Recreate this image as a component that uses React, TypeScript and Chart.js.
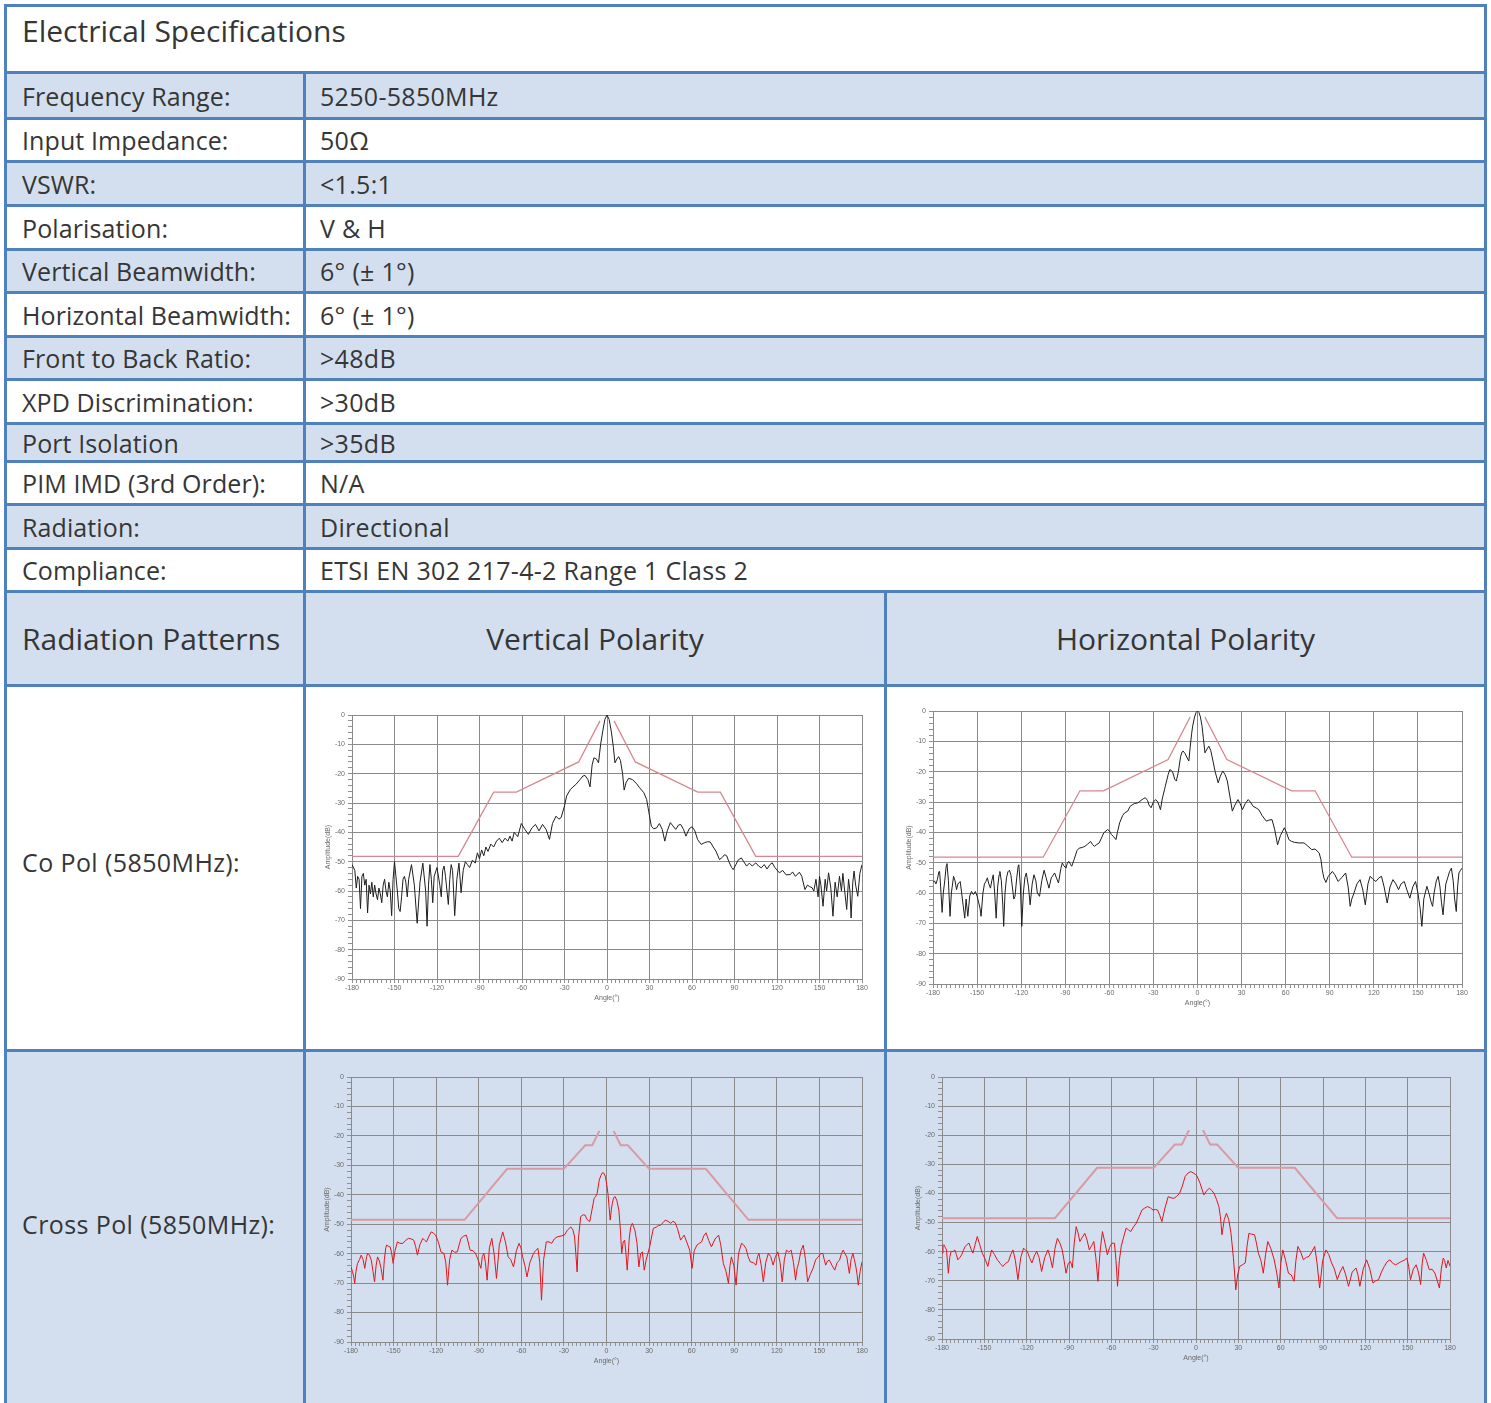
import React, { useEffect, useRef } from 'react';
import { Chart, registerables } from 'chart.js';

Chart.register(...registerables);

type Pt = [number, number | null];

// ---------- table text ----------
const titleText = 'Electrical Specifications';
const specLabels = [
  'Frequency Range:', 'Input Impedance:', 'VSWR:', 'Polarisation:', 'Vertical Beamwidth:',
  'Horizontal Beamwidth:', 'Front to Back Ratio:', 'XPD Discrimination:', 'Port Isolation',
  'PIM IMD (3rd Order):', 'Radiation:', 'Compliance:',
];
const specValues = [
  '5250-5850MHz', '50Ω', '<1.5:1', 'V & H', '6° (± 1°)', '6° (± 1°)', '>48dB', '>30dB', '>35dB',
  'N/A', 'Directional', 'ETSI EN 302 217-4-2 Range 1 Class 2',
];
const patternHeaders = ['Radiation Patterns', 'Vertical Polarity', 'Horizontal Polarity'];
const patternRows = ['Co Pol (5850MHz):', 'Cross Pol (5850MHz):'];

// ---------- axis definitions ----------
const angleMin = -180;
const angleMax = 180;
const angleStep = 3;
const angleLabelEvery = 30;
const levelMin = -90;
const levelMax = 0;
const levelStep = 2;
const levelLabelEvery = 10;
const angleTitle = 'Angle(°)';
const levelTitle = 'Amplitude(dB)';

// ---------- masks (angle °, level dB) ----------
const coPolMask: Pt[] = [
  [-180, -48.2], [-105, -48.2], [-80, -26.3], [-64, -26.3], [-20, -16], [-5, -2], [0, null],
  [5, -2], [20, -16], [64, -26.3], [80, -26.3], [105, -48.2], [180, -48.2],
];
const crossPolMask: Pt[] = [
  [-180, -48.5], [-100, -48.5], [-70, -31.2], [-30, -31.2], [-15, -23.2], [-10, -23.2], [-5, -18.3], [0, null],
  [5, -18.3], [10, -23.2], [15, -23.2], [30, -31.2], [70, -31.2], [100, -48.5], [180, -48.5],
];

// ---------- measured patterns (angle °, level dB) ----------
const coPolVertical: Pt[] = [
  [-180, -51], [-178, -53], [-177, -59], [-176, -55], [-175, -56], [-174, -66], [-173, -55], [-172, -54],
  [-171, -58], [-170, -56], [-169, -67.5], [-168, -58], [-167, -61], [-166, -57], [-165, -62], [-164, -58],
  [-163, -61], [-162, -63], [-161, -59], [-160, -61], [-159, -64], [-158, -58], [-157, -56], [-156, -60],
  [-155, -62], [-154, -57], [-153, -60], [-152, -68.4], [-151, -56], [-150, -50], [-149, -55], [-148, -60],
  [-147, -66], [-146, -67], [-145, -62], [-144, -56], [-143, -55], [-142, -57], [-141, -62], [-140, -56],
  [-138, -51], [-136, -58], [-134, -71], [-132, -57], [-130, -50.5], [-128, -60], [-127, -72], [-126, -58],
  [-125, -51], [-124, -56], [-123, -64], [-122, -55], [-120, -52], [-118, -58], [-117, -62], [-116, -53],
  [-115, -51.5], [-114, -55], [-112, -64.6], [-111, -56], [-110, -51], [-109, -53], [-107.5, -68.4], [-106, -56],
  [-104.5, -50.5], [-103, -60.6], [-101.5, -53], [-100, -50], [-98.5, -51], [-97, -52], [-95, -49.5], [-93, -50.5],
  [-91.5, -47], [-90, -49], [-88.5, -46], [-87, -48], [-85.5, -45], [-84, -46.5], [-82, -44], [-80, -45],
  [-78, -43], [-76, -42], [-74, -43.5], [-72, -42], [-70, -43], [-68.5, -41.3], [-67, -43], [-65.5, -40],
  [-63, -41.5], [-60.5, -37], [-58, -39], [-55.5, -40.7], [-53, -38.5], [-50.5, -37.3], [-48, -39.5], [-45.5, -37.3],
  [-43, -39], [-40.6, -42.4], [-38.5, -37], [-36, -34.5], [-34, -35.5], [-32.4, -35], [-30, -31], [-28.5, -27.6],
  [-26, -25.5], [-24, -24.5], [-22, -23.7], [-19, -22], [-17, -20.8], [-15.5, -20.6], [-13.5, -22], [-12, -24.5],
  [-10.5, -17], [-9.2, -14.6], [-7.5, -15], [-6, -16.3], [-4.5, -10], [-3, -5.5], [-1.5, -1.5], [0, 0],
  [1.5, -1.5], [3, -5.5], [4.5, -11], [5.6, -16.3], [7, -15], [8.2, -14.2], [9.5, -15.5], [11, -20],
  [12.1, -25.6], [13.5, -23], [15.2, -21.6], [18, -22], [21, -23.5], [23, -24.8], [26, -26.5], [28, -28.8],
  [29.5, -33], [31.3, -37.9], [33, -38.8], [35, -38.5], [37, -37], [39, -39], [40.8, -43], [42.5, -39.5],
  [44.7, -36.7], [46.5, -37.8], [48.5, -39], [50.5, -37.5], [52, -37.3], [54, -39], [55.7, -41.3], [58, -38.8],
  [60.1, -38.1], [62, -39.5], [64, -42.5], [66.5, -44.1], [69, -43.5], [71, -43.2], [72.9, -43.3], [75, -45],
  [77, -46.5], [79.4, -49.3], [81.5, -48.5], [83, -47.6], [84.5, -48], [86, -50], [88, -52], [89.1, -52.7],
  [91, -51], [92.5, -49.5], [94.8, -48.7], [96.5, -50], [98.6, -51.5], [100.5, -50.5], [102.5, -51.5], [105, -50.4],
  [107, -51.5], [108.9, -52.1], [111, -51], [113, -52.5], [115, -51], [116.6, -50.4], [118.5, -52], [121.7, -53.8],
  [124, -53], [126.5, -54.5], [129.4, -54.4], [131, -53.5], [133, -55], [135.8, -53.6], [137.5, -55], [139.7, -59.5],
  [141.5, -58], [143, -58.5], [144.8, -58.9], [146, -60], [147.5, -56], [149, -62], [150, -55], [151, -58],
  [152.5, -65.2], [154, -56], [155, -60], [156.4, -53.8], [158, -59], [159.5, -68.6], [161, -57], [162.5, -62],
  [164.1, -55], [165.5, -60], [166.5, -54], [168, -61], [169.2, -66.3], [170.5, -56], [171.5, -60], [172.3, -69.2],
  [173.5, -57], [174.4, -53.2], [175.5, -58], [177, -61.8], [178.5, -54], [180, -51],
];

const coPolHorizontal: Pt[] = [
  [-180, -56.5], [-179, -56], [-178, -57], [-177, -55.5], [-176, -53], [-175.5, -52.9], [-174.8, -58], [-173.8, -66.4],
  [-173, -60], [-172, -56], [-171, -51], [-170.5, -50.3], [-169.5, -56], [-168.4, -67.7], [-167.5, -60], [-166, -54.5],
  [-165, -56], [-164, -58.9], [-163, -57], [-161.5, -56.2], [-160.5, -60], [-159.5, -64], [-158.4, -68.3], [-157.5, -62],
  [-156.3, -67.7], [-155, -61], [-153.8, -59.5], [-152.5, -60.5], [-151.2, -59.5], [-150, -61], [-149, -63], [-148, -65],
  [-147.3, -67.7], [-146, -60], [-145, -57], [-144, -56.2], [-143, -55], [-142, -57], [-140.9, -58.4], [-140, -56],
  [-139, -54], [-138, -60], [-137, -68.3], [-136, -58], [-135, -54], [-134.5, -52.9], [-133.5, -56], [-132.5, -64],
  [-131.9, -71], [-131, -60], [-130, -55], [-129, -53], [-128, -52.5], [-127, -54], [-126, -58], [-125, -62],
  [-124.2, -61.1], [-123, -55], [-122, -51], [-121.6, -50.7], [-120.5, -58], [-119.6, -71], [-118.5, -60], [-117.5, -55],
  [-116.5, -53.4], [-115, -58], [-113.9, -63.9], [-112.5, -57], [-111.3, -54], [-110, -56], [-109, -60], [-107.5, -61.1],
  [-106, -56], [-104.4, -52.5], [-103, -55], [-101.1, -58.4], [-99.5, -55], [-97.2, -53.4], [-96, -55], [-94.6, -56.7],
  [-93, -52], [-92, -50.1], [-91, -51], [-89.5, -51.8], [-88.5, -50], [-87.4, -49.6], [-86.5, -50.5], [-85.6, -51.2],
  [-84, -49], [-82, -46], [-80.5, -45.2], [-78.5, -45], [-76.6, -44.6], [-75, -44], [-72.8, -43], [-71.5, -44],
  [-70.2, -44.6], [-68.5, -44], [-66.9, -43.5], [-65, -41.5], [-63.8, -40.2], [-61.2, -39.1], [-60, -39.5], [-58.6, -40.7],
  [-57, -41.5], [-55.5, -42.4], [-54.5, -40], [-53, -36.9], [-51, -34.5], [-49.6, -33.6], [-47.5, -33], [-45.8, -31.4],
  [-43, -30.5], [-40.6, -30.3], [-38.5, -29.5], [-36.5, -28.8], [-35.5, -28.6], [-34, -29.5], [-33, -31], [-31.6, -31.9],
  [-30, -30], [-28.5, -29.2], [-27, -30], [-25.2, -32.5], [-24, -29], [-22.5, -26], [-21.9, -24.8], [-20, -21],
  [-18.8, -19.3], [-17, -20], [-15.5, -22.5], [-14.4, -23.1], [-13, -20], [-11.5, -15], [-10.5, -13.5], [-9.8, -13.2],
  [-8.5, -14], [-7, -15.5], [-5.9, -16.5], [-5, -12], [-4, -7.5], [-3.3, -5], [-2, -2], [-1, -0.5],
  [0, 0], [1, -0.5], [2, -2], [3.1, -5], [4, -9], [5.1, -13.8], [6.5, -12.5], [7.7, -11.6],
  [9, -13], [10.8, -17.1], [12, -20], [14.1, -23.7], [15.5, -21.5], [17.2, -19.8], [18.8, -21], [20.3, -23.1],
  [22, -28], [23.7, -33], [25.5, -31], [27.5, -29.2], [29, -30.5], [30.6, -32.5], [32.5, -30.5], [34.5, -29.2],
  [36, -30], [37.8, -31.4], [40, -32], [41.7, -32.5], [44, -34.5], [46.8, -36.3], [48.5, -36], [50.7, -35.8],
  [52.5, -39], [54.5, -44.1], [56.5, -41], [59.1, -38.5], [60.5, -40], [62.2, -42.4], [64, -43], [66.1, -43.3],
  [69, -43.5], [72.5, -43.5], [75, -44.5], [77.7, -45.7], [80, -45.5], [82.8, -46.8], [84, -49], [84.9, -52.3],
  [86, -55], [87.4, -56.5], [89, -54.5], [91.8, -52.9], [93.5, -54], [95.7, -56.2], [98, -55], [100.8, -53.4],
  [102.5, -58], [103.9, -64.4], [105, -62], [106.5, -60], [108.5, -57], [110.6, -55.6], [112.5, -59], [114.2, -63.9],
  [116, -57], [117.5, -54.5], [119.5, -55.5], [121.4, -56.2], [123.5, -55], [125.2, -54.5], [127, -58], [129.1, -63.3],
  [131, -58], [133, -55.6], [135, -57], [136.8, -58.9], [138.5, -57], [140.7, -56.2], [142.5, -59], [144.5, -61.7],
  [146.5, -58], [148.4, -56.2], [150, -60], [151.5, -65], [152.7, -71], [154, -62], [156.1, -57.8], [157.5, -60],
  [159, -63], [160, -64.4], [161, -60], [162.5, -56], [163.8, -54.5], [165, -58], [166, -63], [167.1, -67.2],
  [168, -62], [169, -57], [170.2, -55.1], [171.5, -53], [172.8, -51.8], [174, -56], [175, -62], [176.1, -66.1],
  [177, -58], [177.9, -53.4], [179, -52.5], [180, -51.8],
];

const crossPolVertical: Pt[] = [
  [-180, -64.5], [-179, -66], [-178, -68], [-177.4, -70.1], [-176.5, -66], [-175.4, -63.3], [-174, -62], [-172.8, -60.5],
  [-171.5, -62], [-170.3, -65], [-169, -61], [-168.2, -59.9], [-167, -60.5], [-165.7, -62.2], [-164.5, -66], [-163.4, -69.6],
  [-162.3, -64], [-161.3, -61.1], [-160, -62.5], [-158.8, -65], [-157.5, -69], [-156.5, -62], [-155.5, -58], [-154.9, -57.1],
  [-153.5, -57.5], [-152.4, -57.7], [-151.3, -60], [-150.3, -63.3], [-149, -59], [-147.3, -56], [-145.5, -56.5], [-143.4, -56.5],
  [-141.5, -55.5], [-139.6, -54.8], [-137.5, -55], [-135.8, -55.4], [-134.5, -57.5], [-133.2, -60.5], [-131.5, -57], [-129.4, -54.8],
  [-128, -55.5], [-126.8, -56], [-125, -54], [-123.5, -52.6], [-122, -53], [-120.4, -53.7], [-118.5, -56], [-116.6, -59.4],
  [-114.6, -59.9], [-113.2, -63], [-112, -70.7], [-110.5, -62], [-108.9, -58.8], [-107, -59.5], [-105.1, -59.4], [-103.8, -57],
  [-102.5, -54.8], [-100.5, -54], [-98.7, -53.7], [-97.5, -56], [-96.1, -58.8], [-94, -59], [-92.3, -59.9], [-90.5, -62],
  [-88.5, -65], [-87.5, -61], [-86.4, -59.9], [-85.3, -63], [-84.1, -69], [-82.5, -58], [-80.8, -54.8], [-79.2, -60],
  [-77.5, -68.4], [-75.5, -57], [-73.1, -52.6], [-71.2, -56], [-69.3, -61.1], [-67.5, -62], [-65.5, -64.5], [-63.5, -59],
  [-61.6, -56.5], [-60.3, -58], [-59.1, -61.1], [-57.5, -64], [-56, -67.9], [-54, -63], [-51.4, -59.9], [-50, -59],
  [-48.3, -58.2], [-47, -63], [-45.8, -75.8], [-44.3, -62], [-42.4, -56], [-40.5, -56], [-38.6, -56.5], [-36.8, -55],
  [-34.8, -54.3], [-32, -54], [-29.7, -53.7], [-27.5, -52], [-25.1, -50.9], [-23.6, -52], [-22.5, -54.3], [-21.6, -60],
  [-20.7, -66.2], [-19.8, -55], [-18.2, -47.4], [-16.5, -46.8], [-15.1, -46.9], [-13.5, -48.5], [-11.8, -49.1], [-10.2, -45],
  [-8.7, -41.2], [-7.5, -40.5], [-6.6, -39.5], [-5.1, -35], [-4, -33.5], [-2.8, -32.5], [-1.8, -32.7], [-0.8, -33.8],
  [0, -36], [1, -39.5], [1.8, -44], [2.6, -48.6], [3.4, -45], [4.1, -42.9], [5, -41], [6.1, -40.6],
  [7.3, -42], [8.7, -45.2], [9.8, -52], [10.7, -59.9], [11.8, -56], [12.8, -55.4], [13.7, -60], [14.6, -65.6],
  [16, -55], [17, -51], [18.2, -49.7], [20, -52], [21.5, -56.5], [22.8, -64.5], [24, -60], [25.3, -59.4],
  [26.6, -65.6], [28, -62], [30.4, -57.7], [31.5, -55], [33, -51.4], [35, -51], [36.5, -50.5], [38.1, -50.3],
  [39.8, -49.5], [41.4, -48.6], [43.3, -49], [45.3, -49.7], [46.8, -49], [48.3, -49.4], [50, -51.5], [52.2, -55.4],
  [53.5, -54.5], [54.7, -53.7], [56.5, -56], [58.6, -58.8], [60.3, -65], [61.8, -59], [63.7, -57.1], [65.3, -56.5],
  [67, -56], [68.5, -54], [70.1, -52.9], [72, -55.5], [73.9, -57.7], [76.5, -55], [79, -53.7], [80.5, -57],
  [82.3, -63.3], [84.2, -66], [85.9, -70.1], [87, -64], [88, -61.1], [89.7, -64], [91.3, -70.7], [93, -60],
  [95.1, -56.5], [96.6, -57], [98.2, -58.2], [99.8, -61], [101.3, -62.8], [103.3, -63], [105.3, -63.9], [106.4, -61],
  [107.4, -59.9], [109, -64], [110.5, -69.6], [112.2, -63], [114, -59.9], [115.7, -61], [117.4, -63.9], [119, -61],
  [120.7, -59.4], [122.3, -63], [123.8, -69.6], [125.3, -62], [126.8, -58.8], [128.5, -59.5], [130.1, -58.8], [131.7, -63],
  [133.2, -69], [134.3, -65], [135.3, -63.3], [137, -59], [138.6, -57.1], [140.2, -62], [141.7, -69.6], [143.6, -67],
  [145.5, -65], [147.4, -62], [149.3, -61.1], [150.8, -60], [152.4, -59.9], [153.4, -62], [154.4, -63.9], [155.7, -62.5],
  [157, -62.2], [158.9, -64], [160.8, -65.6], [162.5, -63], [164.2, -62.2], [165.5, -60], [166.7, -58.8], [168, -60],
  [169.3, -61.1], [170.2, -64], [171.1, -66.7], [172.3, -62], [173.6, -59.9], [174.6, -62], [175.7, -64.5], [176.5, -67],
  [177.4, -70.7], [178.7, -66], [180, -62.8],
];

const crossPolHorizontal: Pt[] = [
  [-180, -60.5], [-179.3, -58], [-178.7, -57.6], [-177.7, -58.5], [-176.8, -59.4], [-176.2, -63], [-175.5, -67.4], [-174.5, -62],
  [-173.6, -59.9], [-172.2, -60], [-170.9, -59.4], [-169.8, -61], [-168.8, -62.8], [-167.4, -62], [-166.1, -61.1], [-164.8, -59.5],
  [-163.5, -58.2], [-162.2, -57.5], [-160.8, -57.1], [-159.5, -59], [-158.1, -60.5], [-156.5, -57.5], [-155, -54.8], [-153.3, -57.5],
  [-151.5, -60.5], [-149.5, -62.5], [-147.5, -65.1], [-146.2, -62], [-144.8, -59.4], [-142.8, -61], [-140.8, -62.8], [-138.8, -64],
  [-136.9, -65.1], [-134.9, -64], [-132.9, -63.4], [-131.3, -61], [-129.7, -59.4], [-128, -63], [-126.2, -69.6], [-124.2, -62],
  [-122.2, -58.8], [-120.8, -59.5], [-119.5, -59.9], [-118, -62], [-116.3, -63.9], [-114.6, -61.5], [-112.9, -59.9], [-111.2, -62],
  [-109.4, -66.8], [-107.2, -62], [-104.9, -59.4], [-103.3, -62], [-101.7, -65.6], [-100, -59], [-98.2, -55.4], [-96.5, -57],
  [-94.8, -59.4], [-93.5, -63], [-92.1, -67.4], [-90.5, -64], [-88.9, -63.4], [-88.2, -64.5], [-87.6, -65.6], [-86.3, -57],
  [-84.9, -51.4], [-83.6, -53.5], [-82.3, -56.5], [-80.5, -55], [-78.8, -53.7], [-77.2, -56], [-75.6, -59.4], [-74, -58],
  [-72.4, -56.5], [-71, -62], [-69.5, -70.2], [-68, -60], [-66.3, -53.1], [-64.5, -57], [-62.8, -61.1], [-61.2, -58.5],
  [-59.6, -57.1], [-57.8, -57.1], [-56.7, -63], [-55.6, -71.9], [-54.3, -63], [-53, -58.2], [-51.3, -55], [-49.5, -51.9],
  [-47.9, -52.5], [-46.3, -53.1], [-44.3, -51.5], [-42.3, -50.2], [-40.3, -48], [-38.3, -45.7], [-36.3, -45], [-34.3, -44.5],
  [-32.3, -45], [-30.4, -45.7], [-28.8, -45.5], [-27.2, -45.7], [-25.7, -47.5], [-24.2, -49.7], [-22, -45], [-19.7, -41.1],
  [-17.7, -41.5], [-15.7, -41.7], [-13.7, -41], [-11.7, -40], [-9.7, -37.5], [-7.7, -34.2], [-5.7, -33], [-3.7, -32.5],
  [-1.7, -33], [0.3, -33.7], [1.6, -35], [2.9, -36.5], [4.2, -38.5], [5.6, -40.5], [7.6, -39], [9.6, -38.2],
  [11.2, -39], [12.8, -40], [14.5, -42], [16.2, -44.5], [17.3, -48], [18.4, -54.2], [20, -49], [21.6, -46.8],
  [23.2, -49], [24.8, -53.7], [26.5, -62], [28.2, -73.1], [29.5, -68], [30.9, -65.1], [32.9, -64.5], [34.9, -63.9],
  [36.2, -58], [37.5, -53.7], [39.5, -54], [41.5, -54.2], [42.8, -57], [44.2, -60.5], [46, -63], [47.7, -67.4],
  [49.3, -61], [50.9, -56.5], [53.1, -59], [55.4, -62.8], [57.1, -67], [58.8, -72.5], [60.1, -64], [61.5, -59.4],
  [63.5, -63], [65.5, -67.4], [67.5, -68], [69.5, -70.2], [70.8, -63], [72.2, -58.2], [74.1, -60], [76.1, -62.8],
  [78.1, -62], [80.1, -61.6], [82.1, -60], [84.1, -58.2], [85.8, -64], [87.6, -72.5], [89.8, -63], [92.1, -59.4],
  [94.1, -61], [96.1, -63.9], [98.1, -66], [100.1, -69.6], [102.1, -67], [104.1, -65.1], [106.1, -68], [108.1, -71.9],
  [110.7, -67], [113.4, -65.6], [114.8, -68], [116.1, -71.9], [118.5, -66], [120.9, -62.8], [123.2, -66], [125.4, -70.8],
  [127.4, -70], [129.4, -69.6], [131.4, -67], [133.4, -65.1], [135.4, -63.5], [137.4, -62.8], [139.4, -64], [141.4, -64.5],
  [143.4, -64], [145.4, -63.4], [147.4, -63], [149.4, -62.2], [150.7, -65], [152, -69.6], [154, -66], [156, -64.5],
  [157.6, -67], [159.2, -71.3], [160.3, -64], [161.3, -60.5], [163.3, -63], [165.3, -66.2], [167.3, -66], [169.3, -67.4],
  [171, -70], [172.5, -72.5], [173.8, -66], [175.2, -62.2], [176.2, -63], [177.3, -65.6], [178.6, -63], [180, -65],
];

// ---------- styling ----------
const BLUE_LINE = '#4f81bd';
const BLUE_FILL = '#d3dfee';
const TEXT = '#363636';
const FONT = '"Open Sans", "Noto Sans", sans-serif';
const GRID = '#8a8a8a';
const TICK_TEXT = '#6a6a6a';

type Box = { left: number; top: number; right: number; bottom: number };

const YW = 30;
const XH = 24;
const PT = 8;
const PR = 8;

function PatternChart(props: {
  trace: Pt[]; mask: Pt[]; box: Box; traceColor: string; maskColor: string; maskWidth: number;
}) {
  const { trace, mask, box, traceColor, maskColor, maskWidth } = props;
  const ref = useRef<HTMLCanvasElement | null>(null);
  const left = box.left - YW;
  const top = box.top - PT;
  const width = box.right - left + PR;
  const height = box.bottom + XH - top;

  useEffect(() => {
    if (!ref.current) return;
    const tickFont = { family: '"Liberation Sans", Arial, sans-serif', size: 7 };
    const chart = new Chart(ref.current, {
      type: 'line',
      data: {
        datasets: [
          {
            data: mask.map(([x, y]) => ({ x, y })) as any,
            borderColor: maskColor,
            borderWidth: maskWidth,
            pointRadius: 0,
            spanGaps: false,
            tension: 0,
          },
          {
            data: trace.map(([x, y]) => ({ x, y })) as any,
            borderColor: traceColor,
            borderWidth: 1,
            pointRadius: 0,
            tension: 0,
          },
        ],
      },
      options: {
        animation: false,
        responsive: false,
        maintainAspectRatio: false,
        devicePixelRatio: 1,
        events: [],
        layout: { padding: { top: PT, right: PR, left: 0, bottom: 0 } },
        plugins: { legend: { display: false }, tooltip: { enabled: false } },
        scales: {
          x: {
            type: 'linear',
            min: angleMin,
            max: angleMax,
            ticks: {
              stepSize: angleStep,
              autoSkip: false,
              maxRotation: 0,
              padding: 1,
              color: TICK_TEXT,
              font: tickFont,
              callback: (v: any) => (Math.round(v) % angleLabelEvery === 0 ? String(Math.round(v)) : ''),
            },
            grid: {
              color: (c: any) => (Math.round(c.tick.value) % angleLabelEvery === 0 ? GRID : 'rgba(0,0,0,0)'),
              tickColor: '#909090',
              tickLength: 4,
              lineWidth: 1,
            },
            border: { color: GRID },
            title: { display: true, text: angleTitle, color: TICK_TEXT, font: tickFont, padding: { top: 0, bottom: 1 } },
            afterFit: (s: any) => { s.height = XH; },
          },
          y: {
            type: 'linear',
            min: levelMin,
            max: levelMax,
            ticks: {
              stepSize: levelStep,
              autoSkip: false,
              padding: 3,
              color: TICK_TEXT,
              font: tickFont,
              callback: (v: any) => (Math.round(v) % levelLabelEvery === 0 ? String(Math.round(v)) : ''),
            },
            grid: {
              color: (c: any) => (Math.round(c.tick.value) % levelLabelEvery === 0 ? GRID : 'rgba(0,0,0,0)'),
              tickColor: '#909090',
              tickLength: 4,
              lineWidth: 1,
            },
            border: { color: GRID },
            title: { display: true, text: levelTitle, color: TICK_TEXT, font: tickFont, padding: { top: 2, bottom: 0 } },
            afterFit: (s: any) => { s.width = YW; },
          },
        },
      } as any,
    });
    return () => chart.destroy();
  }, []);

  return (
    <canvas
      ref={ref}
      width={width}
      height={height}
      style={{ position: 'absolute', left, top, width, height }}
    />
  );
}

// ---------- layout ----------
const PAGE_W = 1491;
const PAGE_H = 1403;
const LW = 3;
const outerLeft = 4;
const outerRight = 1484;
const outerTop = 4;
const col1 = 303;
const col2 = 884;
const specLines = [71, 117, 160, 204, 248, 291, 335, 378, 422, 460, 503, 547, 590];
const headerBottom = 684;
const coRowBottom = 1049;

function HLine({ y, x1 = outerLeft, x2 = outerRight + LW }: { y: number; x1?: number; x2?: number }) {
  return <div style={{ position: 'absolute', left: x1, top: y, width: x2 - x1, height: LW, background: BLUE_LINE }} />;
}
function VLine({ x, y1, y2 }: { x: number; y1: number; y2: number }) {
  return <div style={{ position: 'absolute', left: x, top: y1, width: LW, height: y2 - y1, background: BLUE_LINE }} />;
}
function Fill({ y1, y2 }: { y1: number; y2: number }) {
  return <div style={{ position: 'absolute', left: outerLeft, top: y1, width: outerRight - outerLeft, height: y2 - y1, background: BLUE_FILL }} />;
}
function Txt({ x, cy, size, children, center, ls = 0 }: { x: number; cy: number; size: number; children: any; center?: boolean; ls?: number }) {
  return (
    <div
      style={{
        position: 'absolute', left: x, top: cy, transform: center ? 'translate(-50%, -50%)' : 'translateY(-50%)',
        fontSize: size, lineHeight: 1, color: TEXT, whiteSpace: 'nowrap', fontFamily: FONT, letterSpacing: ls,
      }}
    >
      {children}
    </div>
  );
}

export default function App() {
  const fills: any[] = [];
  const texts: any[] = [];
  for (let i = 0; i < specLabels.length; i++) {
    const y1 = specLines[i] + LW;
    const y2 = specLines[i + 1];
    if (i % 2 === 0) fills.push(<Fill key={'f' + i} y1={y1} y2={y2} />);
    const cy = (y1 + y2) / 2;
    texts.push(<Txt key={'l' + i} x={22} cy={cy} size={25} ls={0.1}>{specLabels[i]}</Txt>);
    texts.push(<Txt key={'v' + i} x={320} cy={cy} size={25} ls={0.3}>{specValues[i]}</Txt>);
  }
  const hdrCy = (590 + LW + headerBottom) / 2;

  return (
    <div style={{ position: 'absolute', left: 0, top: 0, width: PAGE_W, height: PAGE_H, overflow: 'hidden', background: '#fff' }}>
      {fills}
      <Fill y1={590 + LW} y2={headerBottom} />
      <Fill y1={coRowBottom + LW} y2={PAGE_H} />

      {/* lines */}
      <HLine y={outerTop} />
      {specLines.map((y) => <HLine key={'h' + y} y={y} />)}
      <HLine y={headerBottom} />
      <HLine y={coRowBottom} />
      <VLine x={outerLeft} y1={outerTop} y2={PAGE_H} />
      <VLine x={outerRight} y1={outerTop} y2={PAGE_H} />
      <VLine x={col1} y1={specLines[0]} y2={PAGE_H} />
      <VLine x={col2} y1={590} y2={PAGE_H} />

      <Txt x={22} cy={31} size={30}>{titleText}</Txt>
      {texts}
      <Txt x={22} cy={hdrCy} size={30}>{patternHeaders[0]}</Txt>
      <Txt x={(col1 + LW + col2) / 2} cy={hdrCy} size={30} center>{patternHeaders[1]}</Txt>
      <Txt x={(col2 + LW + outerRight) / 2} cy={hdrCy} size={30} center>{patternHeaders[2]}</Txt>
      <Txt x={22} cy={862} size={25} ls={0.4}>{patternRows[0]}</Txt>
      <Txt x={22} cy={1224} size={25} ls={0.4}>{patternRows[1]}</Txt>

      <PatternChart trace={coPolVertical} mask={coPolMask} box={{ left: 352, top: 715, right: 862, bottom: 979 }}
        traceColor="#1e1e1e" maskColor="#d8868f" maskWidth={1.3} />
      <PatternChart trace={coPolHorizontal} mask={coPolMask} box={{ left: 933, top: 711, right: 1462, bottom: 984 }}
        traceColor="#1e1e1e" maskColor="#d8868f" maskWidth={1.3} />
      <PatternChart trace={crossPolVertical} mask={crossPolMask} box={{ left: 351, top: 1077, right: 862, bottom: 1342 }}
        traceColor="#e3141c" maskColor="#d99aa2" maskWidth={2} />
      <PatternChart trace={crossPolHorizontal} mask={crossPolMask} box={{ left: 942, top: 1077, right: 1450, bottom: 1339 }}
        traceColor="#e3141c" maskColor="#d99aa2" maskWidth={2} />
    </div>
  );
}
